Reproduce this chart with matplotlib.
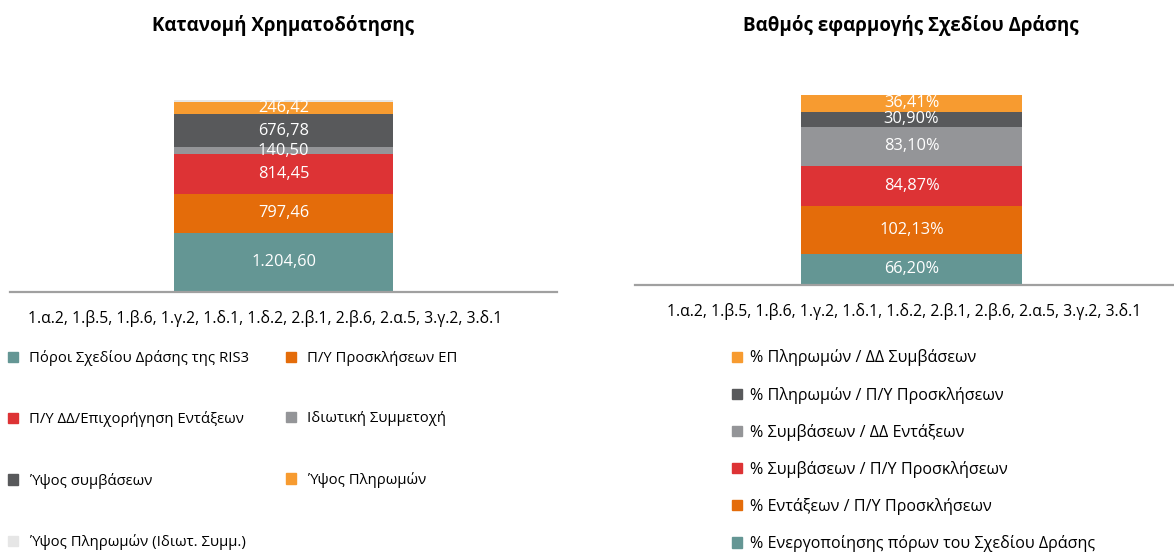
import matplotlib
matplotlib.use("Agg")
import matplotlib.pyplot as plt
from matplotlib.patches import Patch

plt.rcParams['font.family'] = ['Open Sans', 'DejaVu Sans']

category = "1.α.2, 1.β.5, 1.β.6, 1.γ.2, 1.δ.1, 1.δ.2, 2.β.1, 2.β.6, 2.α.5, 3.γ.2, 3.δ.1"

# left chart: funding allocation
fund_names = ["Πόροι Σχεδίου Δράσης της RIS3", "Π/Υ Προσκλήσεων ΕΠ",
              "Π/Υ ΔΔ/Επιχορήγηση Εντάξεων", "Ιδιωτική Συμμετοχή",
              "Ύψος συμβάσεων", "Ύψος Πληρωμών", "Ύψος Πληρωμών (Ιδιωτ. Συμμ.)"]
fund_values = [1204.60, 797.46, 814.45, 140.50, 676.78, 246.42, 40.0]
fund_labels = ["1.204,60", "797,46", "814,45", "140,50", "676,78", "246,42", ""]

# right chart: implementation percentages
pct_names = ["% Ενεργοποίησης πόρων του Σχεδίου Δράσης", "% Εντάξεων / Π/Υ Προσκλήσεων",
             "% Συμβάσεων / Π/Υ Προσκλήσεων", "% Συμβάσεων / ΔΔ Εντάξεων",
             "% Πληρωμών / Π/Υ Προσκλήσεων", "% Πληρωμών / ΔΔ Συμβάσεων"]
pct_values = [66.20, 102.13, 84.87, 83.10, 30.90, 36.41]

fund_colors = ["#649694", "#E46C0A", "#DD3335", "#949598", "#58595B", "#F79B30", "#E6E6E6"]
pct_colors = fund_colors[:6]

W, H = 1174, 555
fig = plt.figure(figsize=(W / 100, H / 100), dpi=100)


def px_axes(left, top, right, bottom):
    return fig.add_axes([left / W, 1 - bottom / H, (right - left) / W, (bottom - top) / H])


def stack(ax, values, colors, labels, width):
    base = 0
    for v, c, lab in zip(values, colors, labels):
        ax.bar(0, v, width=width, bottom=base, color=c, edgecolor='none')
        if lab:
            ax.text(0, base + v / 2, lab, ha='center', va='center', color='white', fontsize=11.8)
        base += v


def style(ax):
    for s in ['left', 'right', 'top']:
        ax.spines[s].set_visible(False)
    ax.spines['bottom'].set_color('#A0A0A0')
    ax.spines['bottom'].set_linewidth(1.6)
    ax.set_yticks([])
    ax.tick_params(axis='x', length=0, labelsize=11.3, pad=13)


# left chart
ax1 = px_axes(10, 52, 557, 292)
stack(ax1, fund_values, fund_colors, fund_labels, 0.4)
ax1.set_xlim(-0.5, 0.5)
ax1.set_ylim(0, 4900)
style(ax1)
ax1.set_xticks([-0.033])
ax1.set_xticklabels([category])
fig.text(283 / W, 1 - 25 / H, "Κατανομή Χρηματοδότησης", ha='center', va='center',
         fontsize=13.5, fontweight='bold')

order = [0, 2, 4, 6, 1, 3, 5]
handles = [Patch(color=fund_colors[i]) for i in order]
fig.legend(handles, [fund_names[i] for i in order], ncol=2, frameon=False,
           loc='upper left', bbox_to_anchor=(2 / W, 1 - 344 / H), fontsize=10.7,
           handlelength=0.7, handleheight=0.7, handletextpad=0.7,
           labelspacing=3.05, columnspacing=2.5, borderaxespad=0)

# right chart
ax2 = px_axes(635, 81, 1173, 285)
pct_labels = [f"{v:.2f}%".replace('.', ',') for v in pct_values]
stack(ax2, pct_values, pct_colors, pct_labels, 0.41)
ax2.set_xlim(-0.514, 0.486)
ax2.set_ylim(0, 433)
style(ax2)
ax2.set_xticks([-0.014])
ax2.set_xticklabels([category])
fig.text(911 / W, 1 - 25 / H, "Βαθμός εφαρμογής Σχεδίου Δράσης", ha='center', va='center',
         fontsize=13.5, fontweight='bold')

handles2 = [Patch(color=c) for c in pct_colors][::-1]
fig.legend(handles2, pct_names[::-1], ncol=1, frameon=False,
           loc='upper left', bbox_to_anchor=(726 / W, 1 - 343 / H), fontsize=11.6,
           handlelength=0.6, handleheight=0.6, handletextpad=0.5,
           labelspacing=1.25, borderaxespad=0)

fig.savefig("out.png", dpi=100)
